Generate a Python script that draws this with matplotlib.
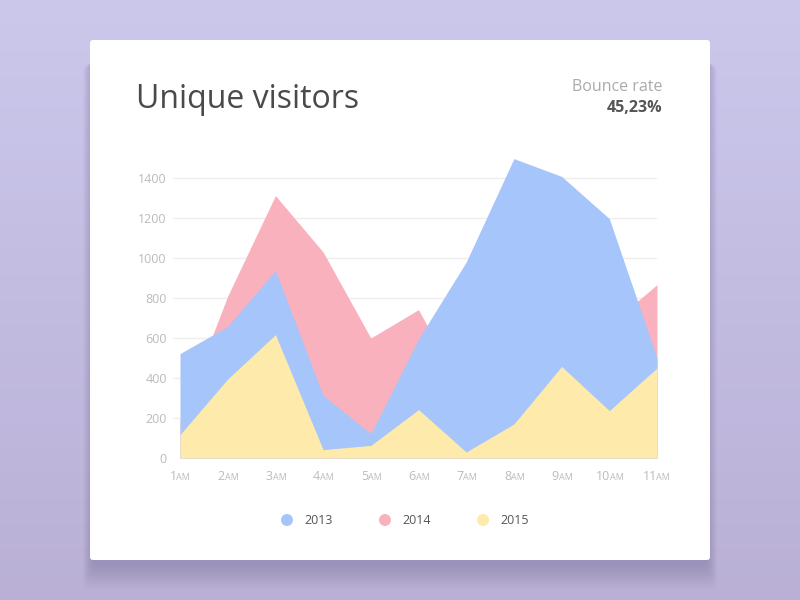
import matplotlib
matplotlib.use("Agg")
import matplotlib.pyplot as plt
import numpy as np
from matplotlib.patches import FancyBboxPatch, Circle
from matplotlib import transforms

plt.rcParams['font.family'] = ['Open Sans', 'DejaVu Sans']

# data
hours = [1, 2, 3, 4, 5, 6, 7, 8, 9, 10, 11]
visits_2013 = [522, 658, 938, 313, 122, 595, 980, 1497, 1408, 1197, 500]
visits_2014 = [190, 810, 1312, 1030, 600, 742, 300, 500, 600, 665, 867]
visits_2015 = [117, 395, 617, 42, 63, 242, 30, 170, 458, 237, 450]
years = ["2013", "2014", "2015"]
yticks = [0, 200, 400, 600, 800, 1000, 1200, 1400]

c2013 = "#a6c5fa"
c2014 = "#f9b1be"
c2015 = "#feeaaa"

fig = plt.figure(figsize=(8, 6), dpi=100)

# background + card, in pixel coords
bg = fig.add_axes([0, 0, 1, 1])
bg.set_xlim(0, 800)
bg.set_ylim(600, 0)
bg.axis("off")
grad = np.linspace(0, 1, 256).reshape(-1, 1)
top = np.array([203, 200, 236]) / 255
bot = np.array([186, 176, 214]) / 255
img = top + (bot - top) * grad[:, :, None]
bg.imshow(img, extent=(0, 800, 600, 0), aspect="auto", zorder=0)

# soft shadow under the card
for i in range(16):
    off = i * 1.5
    bg.add_patch(FancyBboxPatch((92 - off * 0.4, 60 + off * 0.2), 616 + off * 0.8, 505 + off * 0.9,
                                boxstyle="round,pad=0,rounding_size=8",
                                fc="#5e4e8c", ec="none", alpha=0.02, zorder=1))
bg.add_patch(FancyBboxPatch((90, 40), 620, 520, boxstyle="round,pad=0,rounding_size=3",
                            fc="white", ec="none", zorder=2))

bg.text(136, 108, "Unique visitors", fontsize=23, color="#4a4a4a", va="baseline", ha="left", zorder=3)
bg.text(662, 87, "Bounce rate", fontsize=11.5, color="#aaaaaa", va="center", ha="right", zorder=3)
bg.text(662, 108, "45,23%", fontsize=11.5, color="#555555", fontweight="bold", va="center", ha="right", zorder=3)

# legend
leg_x = [287, 385, 483]
for x, yr, col in zip(leg_x, years, [c2013, c2014, c2015]):
    bg.add_patch(Circle((x, 520), 6, fc=col, ec="none", zorder=3))
    bg.text(x + 17, 520.5, yr, fontsize=9, color="#555555", va="center", ha="left", zorder=3)

# chart
ax = fig.add_axes([173 / 800, 1 - 458 / 600, (657 - 173) / 800, 300 / 600])
ax.set_xlim(0.853, 11)
ax.set_ylim(0, 1500)
ax.set_facecolor("none")
for s in ax.spines.values():
    s.set_visible(False)

for y in yticks[1:]:
    ax.axhline(y, color="#eeeeee", lw=1, zorder=0)

ax.fill_between(hours, 0, visits_2014, color=c2014, lw=0, zorder=1)
ax.fill_between(hours, 0, visits_2013, color=c2013, lw=0, zorder=2)
ax.fill_between(hours, 0, visits_2015, color=c2015, lw=0, zorder=3)

ax.set_yticks(yticks)
ax.set_yticklabels([str(v) for v in yticks], fontsize=9, color="#bbbbbb")
ax.tick_params(axis="y", length=0, pad=4.5)
ax.set_xticks([])

# x labels: number + small AM
for h in hours:
    s = str(h)
    num_w = 6.5 * len(s)
    am_w = 12
    shift = (num_w - am_w) / 2
    gap = -1.5 if s.endswith("1") else 0
    t1 = transforms.offset_copy(ax.transData, fig=fig, x=shift, y=-18.5, units="dots")
    ax.text(h, 0, s, transform=t1, fontsize=9, color="#bbbbbb", ha="right", va="center", clip_on=False)
    t2 = transforms.offset_copy(ax.transData, fig=fig, x=shift + gap, y=-19, units="dots")
    ax.text(h, 0, "AM", transform=t2, fontsize=6.5, color="#bbbbbb", ha="left", va="center", clip_on=False)

fig.savefig("out.png", dpi=100)
